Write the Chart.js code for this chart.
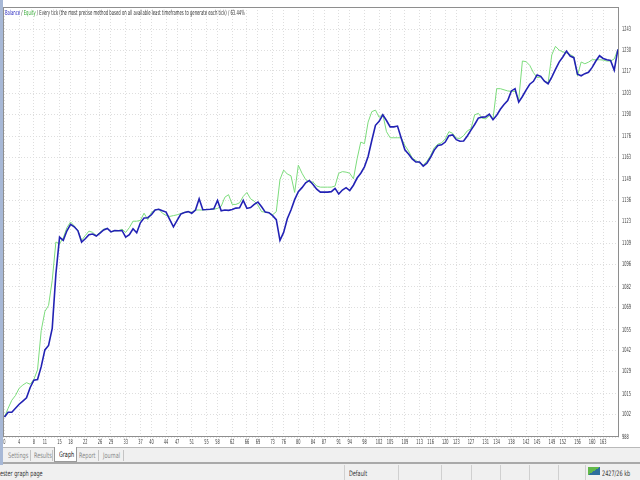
<!DOCTYPE html>
<html>
<head>
<meta charset="utf-8">
<script src="https://cdn.jsdelivr.net/npm/chart.js@4"></script>
<style>
  body { margin: 0; width: 640px; height: 480px; overflow: hidden; background: #f0f0f0;
         font-family: 'DejaVu Sans', sans-serif; }
  #wrap { position: absolute; left: 0; top: 0; width: 640px; height: 447px; background: #fff; }
  #title { position: absolute; left: 5px; top: 9px; font-size: 7px; line-height: 8px; color: #333;
           white-space: nowrap; transform-origin: 0 50%; display: inline-block; }
  #side { position: absolute; left: 0; top: 0; width: 3px; height: 465px; background: #a7b8d6; }
  #tabs { position: absolute; left: 0; top: 447px; width: 640px; height: 14px;
          border-top: 1px solid #b9b9b9; font-size: 7.5px; color: #8a8a8a; }
  .nar { position: absolute; display: inline-block; white-space: nowrap; transform: scaleX(0.66); transform-origin: 0 0; }
  .tab { top: 3px; }
  .sep { position: absolute; top: 2px; width: 1px; height: 11px; background: #c4c4c4; }
  #graph-tab { position: absolute; left: 54px; top: -1px; width: 21px; height: 14px; background: #fff;
               border: 1px solid #9a9a9a; border-top: none; color: #111; }
  #status { position: absolute; left: 0; top: 462px; width: 640px; height: 16px;
            border-top: 2px solid #a9a9a9; font-size: 7.5px; color: #333; }
  .st { top: 5px; }
  .ssep { position: absolute; top: 1px; width: 1px; height: 15px; background: #d0d0d0; }
  #icon { position: absolute; left: 588px; top: 3px; width: 12px; height: 8px;
          background: linear-gradient(to top left, #2e6f9e 50%, #62b84a 50%); }
</style>
</head>
<body>
<div id="wrap">
  <canvas id="equity-chart" width="640" height="447"></canvas>
  <div id="title"><span style="color:#2b2bc0">Balance</span> / <span style="color:#2fa82f">Equity</span> / Every tick (the most precise method based on all available least timeframes to generate each tick) / 63.44%</div>
</div>
<div id="tabs">
  <span class="nar tab" style="left:8px">Settings</span>
  <span class="sep" style="left:30px"></span>
  <span class="nar tab" style="left:34px">Results</span>
  <span class="sep" style="left:52px"></span>
  <div id="graph-tab"><span class="nar" style="left:4px;top:3px">Graph</span></div>
  <span class="nar tab" style="left:79px">Report</span>
  <span class="sep" style="left:98px"></span>
  <span class="nar tab" style="left:103px">Journal</span>
  <span class="sep" style="left:123px"></span>
</div>
<div id="status">
  <span class="nar st" style="left:0">ester graph page</span>
  <span class="ssep" style="left:344px"></span>
  <span class="nar st" style="left:349px">Default</span>
  <span class="ssep" style="left:398px"></span>
  <span class="ssep" style="left:441px"></span>
  <span class="ssep" style="left:471px"></span>
  <span class="ssep" style="left:500px"></span>
  <span class="ssep" style="left:529px"></span>
  <span class="ssep" style="left:558px"></span>
  <span class="ssep" style="left:585px"></span>
  <div id="icon"></div>
  <span class="nar st" style="left:602px">2427/26 kb</span>
</div>
<div id="side"></div>
<script>
const xTicks = [0, 4, 8, 11, 15, 18, 22, 26, 29, 33, 37, 40, 44, 47, 51, 55, 58, 62, 66, 69, 73, 76, 80, 84,
  87, 91, 94, 98, 102, 105, 109, 113, 116, 120, 123, 127, 131, 134, 138, 142, 145, 149, 152, 156, 160, 163];
const yTicks = [988, 1002, 1015, 1029, 1042, 1055, 1069, 1082, 1096, 1109, 1123, 1136, 1149, 1163, 1176,
  1190, 1203, 1217, 1230, 1243];

const balance = [
  1000.5, 1003.5, 1003.5, 1006, 1008.5, 1010.5, 1012.5, 1019, 1023.5, 1024,
  1032, 1042.5, 1045.3, 1056, 1090, 1113, 1111, 1117, 1121, 1119.5,
  1117, 1110, 1112, 1114.5, 1115, 1113.7, 1115.5, 1117.5, 1118.5, 1116.3,
  1117.2, 1117, 1117.2, 1113, 1114.5, 1118.3, 1115.8, 1122, 1125, 1125.2,
  1127, 1130, 1130.5, 1129.5, 1128.7, 1124, 1119.5, 1123.5, 1127.5, 1128.5,
  1129, 1128, 1130, 1137, 1130.2, 1130.3, 1130.5, 1130.8, 1136, 1129.5,
  1130, 1129.8, 1130.3, 1131.2, 1131.4, 1136, 1131, 1131.5, 1133.5, 1135,
  1132, 1128.7, 1128.3, 1126.5, 1124, 1111, 1116, 1124.5, 1130, 1136.5,
  1141.5, 1144, 1147, 1148.5, 1146, 1143, 1141.2, 1141.2, 1141.2, 1141.5,
  1143.5, 1140, 1142.5, 1144, 1142.2, 1145.5, 1150, 1153, 1157, 1163.5,
  1173.5, 1183, 1185.5, 1189.5, 1186, 1182, 1182, 1182.5, 1175, 1167.7,
  1165, 1162, 1160, 1160, 1157.5, 1159.3, 1163, 1167.5, 1170.3, 1170.8,
  1172.5, 1176.5, 1177, 1174, 1173, 1173.2, 1176.3, 1180, 1183.5, 1187.5,
  1188.1, 1188.2, 1190, 1186.5, 1189.2, 1193, 1196, 1198.5, 1204.5, 1205.9,
  1197.5, 1201, 1205, 1208.7, 1210.5, 1214.5, 1213.6, 1210.6, 1209, 1213.2,
  1218, 1222.5, 1225.7, 1229.4, 1226.3, 1225.3, 1215, 1214, 1215.3, 1216.2,
  1219.2, 1223.2, 1226.5, 1224.8, 1224, 1223.6, 1217.5, 1230.5
];

const equity = [
  1000.5, 1006, 1011, 1014, 1018.5, 1020.5, 1022, 1021, 1024, 1030,
  1054.5, 1066.5, 1070.3, 1086, 1110, 1108.9, 1112.5, 1119, 1122.5, 1120,
  1117.2, 1111, 1114, 1116.8, 1116, 1114, 1116, 1118, 1118.5, 1116.3,
  1117, 1117, 1118, 1116, 1119, 1123, 1123, 1123.5, 1128, 1124,
  1128.5, 1130, 1130.5, 1128, 1126.6, 1126, 1126.5, 1127, 1127.8, 1128.5,
  1129, 1128.5, 1130, 1130, 1130, 1130.3, 1130.3, 1130.5, 1131, 1132.3,
  1138, 1139.6, 1133.5, 1133.5, 1134.5, 1138.5, 1141, 1137, 1135.5, 1133,
  1129, 1128.7, 1128.3, 1127, 1129, 1149, 1155, 1152.5, 1151.4, 1141,
  1158, 1153, 1149, 1147.5, 1147.5, 1145, 1144.3, 1144.3, 1144.3, 1144.3,
  1145, 1153, 1154, 1153.7, 1153, 1149.5, 1162, 1172.5, 1171.5, 1185,
  1191.5, 1192.5, 1188, 1189.9, 1179, 1175.2, 1175.2, 1175.2, 1175.2, 1170.4,
  1167, 1162.5, 1161, 1159.5, 1158, 1160.5, 1164, 1169, 1171.2, 1172,
  1174.5, 1179, 1178, 1175, 1174.8, 1176.5, 1179.5, 1180.8, 1189.5, 1190.5,
  1187.5, 1187, 1189, 1187, 1205.9, 1205.9, 1205.2, 1204.5, 1204.2, 1204.2,
  1199, 1223.2, 1222.8, 1220.5, 1216, 1212.8, 1213.2, 1210.8, 1209.5, 1227,
  1232.4, 1230, 1229, 1228.2, 1227.2, 1226, 1214, 1222.6, 1221.5, 1222.5,
  1224, 1224, 1224, 1223.8, 1223.2, 1223.2, 1224.5, 1230.5
];

const el = (id) => document.getElementById(id);
const pts = (arr) => arr.map((v, i) => ({ x: i, y: v }));

// squeeze the title to the width it has in the tester window
const title = el('title');
title.style.transform = `scaleX(${240 / title.offsetWidth})`;

// grey frame round the plot area
const frame = {
  id: 'frame',
  afterDraw(c) {
    const { ctx, chartArea: a } = c;
    ctx.save();
    ctx.strokeStyle = '#8e8e8e';
    ctx.lineWidth = 1;
    ctx.strokeRect(a.left + 0.5, a.top + 0.5, a.right - a.left - 1, a.bottom - a.top - 1);
    ctx.restore();
  }
};

// narrow tick labels (the tester uses a very condensed font)
const tickText = {
  id: 'tickText',
  afterDraw(c) {
    const { ctx, chartArea: a, scales: { x, y } } = c;
    const draw = (txt, px, py, align) => {
      ctx.save();
      ctx.translate(px, py);
      ctx.scale(0.5, 1);
      ctx.textAlign = align;
      ctx.fillText(txt, 0, 0);
      ctx.restore();
    };
    ctx.save();
    ctx.fillStyle = '#3a3a3a';
    ctx.font = "7px 'DejaVu Sans', sans-serif";
    ctx.textBaseline = 'middle';
    x.ticks.forEach(t => draw(String(t.value), x.getPixelForValue(t.value), a.bottom + 5, 'center'));
    y.ticks.forEach(t => draw(String(t.value), a.right + 3, y.getPixelForValue(t.value), 'left'));
    ctx.restore();
  }
};

new Chart(el('equity-chart').getContext('2d'), {
  type: 'line',
  data: {
    datasets: [
      { label: 'Balance', data: pts(balance), borderColor: '#2222b4', borderWidth: 1.6, pointRadius: 0, tension: 0 },
      { label: 'Equity',  data: pts(equity),  borderColor: '#7cdc7c', borderWidth: 1, pointRadius: 0, tension: 0 },
    ]
  },
  options: {
    responsive: false,
    animation: false,
    devicePixelRatio: 1,
    layout: { padding: { left: 3, top: 7, right: 0, bottom: 0 } },
    plugins: { legend: { display: false }, tooltip: { enabled: false } },
    scales: {
      x: {
        type: 'linear', min: -0.4, max: 167.3,
        afterBuildTicks: (a) => { a.ticks = xTicks.map(v => ({ value: v })); },
        afterFit: (a) => { a.height = 10; },
        ticks: { display: false },
        grid: { color: '#dedede', drawTicks: false },
        border: { display: false, dash: [1, 2] }
      },
      y: {
        position: 'right', min: 988, max: 1257,
        afterBuildTicks: (a) => { a.ticks = yTicks.map(v => ({ value: v })); },
        afterFit: (a) => { a.width = 21; },
        ticks: { display: false },
        grid: { color: '#dedede', drawTicks: false },
        border: { display: false, dash: [1, 2] }
      }
    }
  },
  plugins: [frame, tickText]
});
</script>
</body>
</html>
